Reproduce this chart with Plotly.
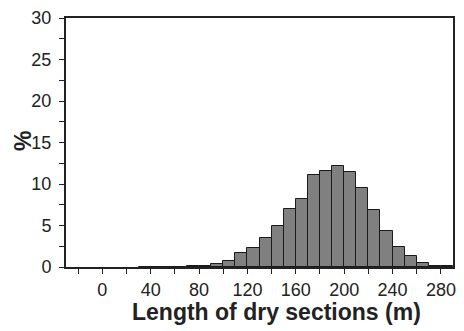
import plotly.graph_objects as go

bin_start = [30, 40, 50, 60, 70, 80, 90, 100, 110, 120, 130, 140, 150, 160, 170,
             180, 190, 200, 210, 220, 230, 240, 250, 260, 270, 280]
percent = [0.05, 0.05, 0.05, 0.05, 0.15, 0.15, 0.4, 0.75, 1.65, 2.28, 3.46, 5.0, 7.0, 8.2, 11.1,
           11.6, 12.2, 11.5, 9.55, 6.85, 4.37, 2.36, 1.3, 0.43, 0.16, 0.08]
bin_width = 10
x_tick_vals = [-20, 0, 20, 40, 60, 80, 100, 120, 140, 160, 180, 200, 220, 240, 260, 280]
x_tick_text = ["", "0", "", "40", "", "80", "", "120", "", "160", "", "200", "", "240", "", "280"]
y_tick_vals = [0, 2.5, 5, 7.5, 10, 12.5, 15, 17.5, 20, 22.5, 25, 27.5, 30]
y_tick_text = ["0", "", "5", "", "10", "", "15", "", "20", "", "25", "", "30"]

fig = go.Figure(go.Bar(
    x=bin_start, y=percent, width=bin_width, offset=0,
    marker=dict(color="#808080", line=dict(color="#1a1a1a", width=1)),
))

FONT = "Liberation Sans, Arial, sans-serif"
axis_font = dict(family=FONT, size=18, color="#222")
fig.update_layout(
    width=464, height=331,
    margin=dict(l=66, r=8, t=13, b=64),
    plot_bgcolor="white", paper_bgcolor="white",
    showlegend=False, bargap=0,
    xaxis=dict(
        range=[-30, 290], tickmode="array", tickvals=x_tick_vals, ticktext=x_tick_text,
        ticks="outside", ticklen=5, tickwidth=1.2, tickcolor="#222",
        ticklabelstandoff=0,
        showline=True, linecolor="#222", linewidth=2, mirror=True,
        showgrid=False, zeroline=False, tickfont=axis_font,
    ),
    yaxis=dict(
        range=[0, 30], tickmode="array", tickvals=y_tick_vals, ticktext=y_tick_text,
        ticks="outside", ticklen=5, tickwidth=1.2, tickcolor="#222",
        ticklabelstandoff=4,
        showline=True, linecolor="#222", linewidth=2, mirror=True,
        showgrid=False, zeroline=False, tickfont=axis_font,
    ),
    annotations=[
        dict(text="<b>Length of dry sections (m)</b>", xref="paper", yref="paper",
             x=0.545, y=-0.122, xanchor="center", yanchor="top", showarrow=False,
             font=dict(family=FONT, size=23, color="#222")),
        dict(text="<b>%</b>", xref="paper", yref="paper", textangle=-90,
             x=-0.111, y=0.506, xanchor="center", yanchor="middle", showarrow=False,
             font=dict(family=FONT, size=23, color="#222")),
    ],
)

fig.write_html("out.html")
